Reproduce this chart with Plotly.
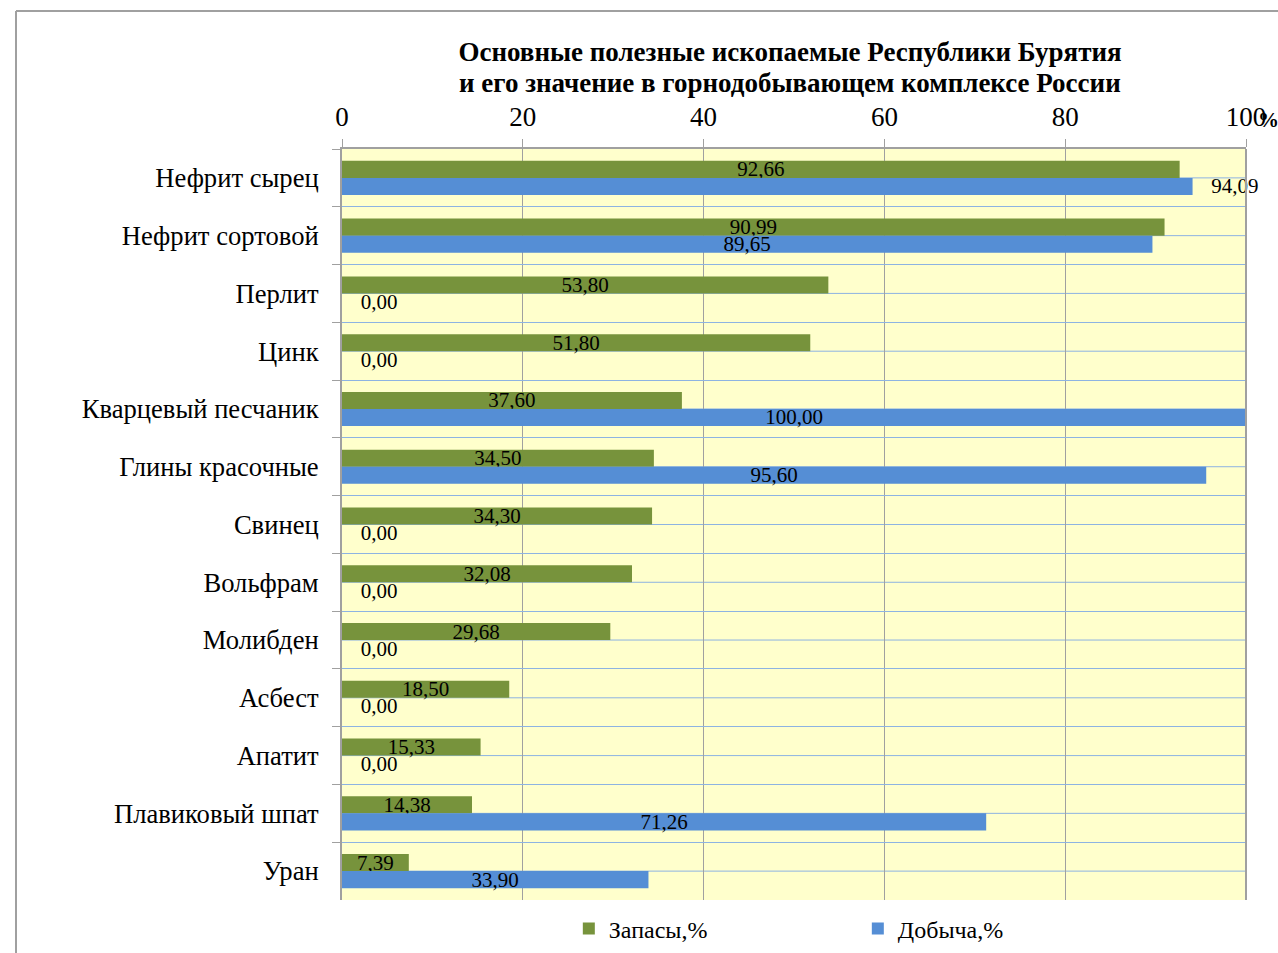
import plotly.graph_objects as go

categories = ["Нефрит сырец", "Нефрит сортовой", "Перлит", "Цинк", "Кварцевый песчаник",
              "Глины красочные", "Свинец", "Вольфрам", "Молибден", "Асбест", "Апатит",
              "Плавиковый шпат", "Уран"]
reserves = [92.66, 90.99, 53.80, 51.80, 37.60, 34.50, 34.30, 32.08, 29.68, 18.50, 15.33, 14.38, 7.39]
production = [94.09, 89.65, 0.00, 0.00, 100.00, 95.60, 0.00, 0.00, 0.00, 0.00, 0.00, 71.26, 33.90]
x_ticks = [0, 20, 40, 60, 80, 100]

title_line1 = "Основные полезные ископаемые Республики Бурятия"
title_line2 = "и его значение в горнодобывающем комплексе России"

FONT = "Liberation Serif, Times New Roman, serif"
GREEN = "#77933C"
BLUE = "#558ED5"
GRAY = "#A0A0A0"
LIGHTBLUE = "#8DB3E2"
NB = "\u00a0"

def fmt(v):
    return f"{v:.2f}".replace(".", ",")

# production labels: zero values and the first bar are drawn outside the bar end
prod_pos = ["outside" if (v == 0 or i == 0) else "inside" for i, v in enumerate(production)]
prod_text = [(NB * 3 + fmt(v)) if p == "outside" else fmt(v) for v, p in zip(production, prod_pos)]

fig = go.Figure()
fig.add_trace(go.Bar(
    name="Запасы,%", y=categories, x=reserves, orientation="h",
    marker=dict(color=GREEN, line=dict(width=0)),
    text=[fmt(v) for v in reserves], textposition="inside", insidetextanchor="middle",
    constraintext="none", cliponaxis=False,
    textfont=dict(family=FONT, size=21, color="black"),
))
fig.add_trace(go.Bar(
    name="Добыча,%", y=categories, x=production, orientation="h",
    marker=dict(color=BLUE, line=dict(width=0)),
    text=prod_text, textposition=prod_pos, insidetextanchor="middle",
    constraintext="none", cliponaxis=False,
    textfont=dict(family=FONT, size=21, color="black"),
))

# body margin is removed by the post script, so figure pixels == screenshot pixels
W, H = 1278, 953
SL, SR, ST, SB = 342, 1246, 149, 900          # plot area in screenshot pixels
pw, ph = SR - SL, SB - ST

def px(xs):
    return (xs - SL) / pw

def py(ys):
    return (SB - ys) / ph

fig.update_layout(
    width=W, height=H,
    margin=dict(l=SL, r=W - SR, t=ST, b=H - SB, pad=0, autoexpand=False),
    paper_bgcolor="white", plot_bgcolor="#FFFFCC",
    font=dict(family=FONT, color="black"),
    title=dict(text="<b>" + title_line1 + "</b>", x=px(790), xref="paper", xanchor="center",
               y=1 - 52 / H, yanchor="middle", font=dict(family=FONT, size=27, color="black")),
    barmode="group", bargap=0.41, bargroupgap=0,
    showlegend=True,
    legend=dict(orientation="h", x=0.5706, xanchor="center", y=py(929), yanchor="middle",
                font=dict(family=FONT, size=24, color="black"),
                entrywidth=244, entrywidthmode="pixels", traceorder="normal"),
    xaxis=dict(side="top", range=[0, 100], tickvals=x_ticks, ticktext=[str(t) for t in x_ticks],
               tickfont=dict(family=FONT, size=27, color="black"),
               showgrid=True, gridcolor=GRAY, gridwidth=1,
               ticks="outside", ticklen=8, tickcolor=GRAY, ticklabelstandoff=2,
               showline=True, linecolor=GRAY, linewidth=2, zeroline=False, mirror=False),
    yaxis=dict(type="category", autorange="reversed", tickson="boundaries",
               tickfont=dict(family=FONT, size=26.6, color="black"),
               showgrid=True, gridcolor=LIGHTBLUE, gridwidth=1,
               ticks="outside", ticklen=8, tickcolor=GRAY, ticklabelstandoff=16,
               showline=True, linecolor=GRAY, linewidth=2, zeroline=False),
    separators=", ",
)

# second title line
fig.add_annotation(text="<b>" + title_line2 + "</b>", xref="paper", yref="paper",
                   x=px(790), y=py(83), xanchor="center", yanchor="middle", showarrow=False,
                   font=dict(family=FONT, size=27, color="black"))

# minor horizontal gridlines at category centres
for c in categories:
    fig.add_shape(type="line", xref="paper", yref="y", x0=0, x1=1, y0=c, y1=c,
                  line=dict(color=LIGHTBLUE, width=1), layer="below")

# right edge (100) line drawn a bit heavier, like the reference
fig.add_shape(type="line", xref="paper", yref="paper", x0=1, x1=1, y0=0, y1=1,
              line=dict(color=GRAY, width=2))

# "%" unit at right end of top axis
fig.add_annotation(text="<b>%</b>", xref="paper", yref="paper", x=px(1268), y=py(120),
                   xanchor="center", yanchor="middle",
                   showarrow=False, font=dict(family=FONT, size=21, color="black"))

# chart frame border (top & left)
fig.add_shape(type="line", xref="paper", yref="paper", x0=px(16), x1=px(W + 20), y0=py(11), y1=py(11),
              line=dict(color=GRAY, width=2))
fig.add_shape(type="line", xref="paper", yref="paper", x0=px(16), x1=px(16), y0=py(11), y1=py(H + 20),
              line=dict(color=GRAY, width=2))

fig.write_html("out.html", config={"displayModeBar": False},
               post_script="document.body.style.margin='0';document.body.style.overflow='hidden';")
